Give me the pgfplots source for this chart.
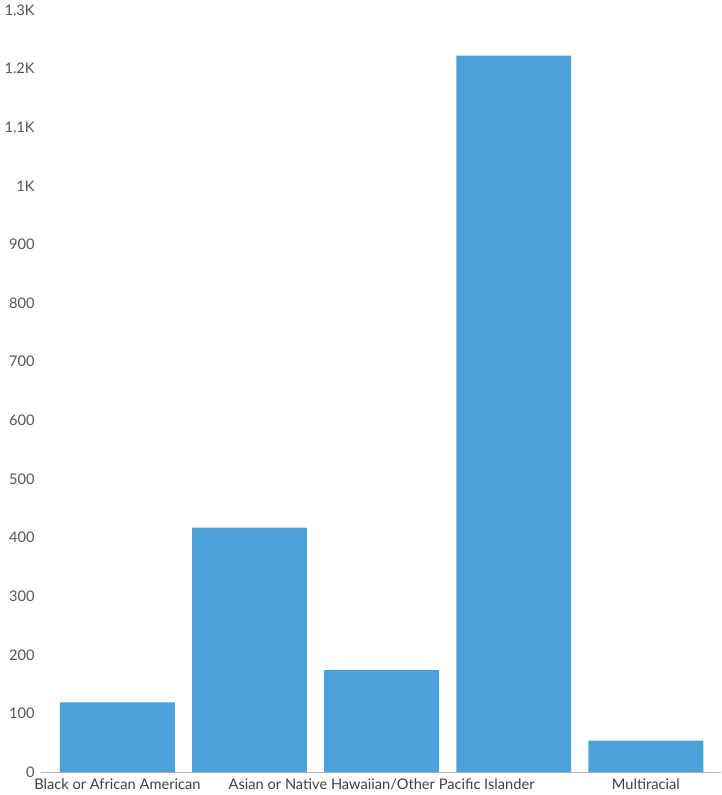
\documentclass[border=0pt]{standalone}
\usepackage{pgfplots}
\pgfplotsset{compat=1.18}
\usepackage{fontspec}
\setmainfont{Lato}
\definecolor{barblue}{HTML}{4AA2D9}
\definecolor{labgray}{HTML}{555555}
\begin{document}
\begin{tikzpicture}
  \begin{axis}[
      scale only axis,
      width=502pt, height=562.5pt,
      xmin=-0.58, xmax=4.57, ymin=0, ymax=1300,
      axis lines*=left,
      y axis line style={draw=none},
      x axis line style={draw=gray!60, line width=0.6pt},
      major tick length=0pt,
      xtick={0,2,4},
      xticklabels={Black or African American, Asian or Native Hawaiian/Other Pacific Islander, Multiracial},
      ytick={0,100,...,1300},
      yticklabels={0,100,200,300,400,500,600,700,800,900,1K,1.1K,1.2K,1.3K},
      ticklabel style={font=\fontsize{10.8}{12}\selectfont, text=labgray},
      xticklabel style={text=black!75, yshift=-1.5pt},
      yticklabel style={xshift=-1pt},
      ybar=0pt, bar width=0.87,
      enlargelimits=false,
      clip=false,
    ]
    \addplot+[fill=barblue, draw=none] coordinates {
      (0,119) (1,417) (2,174) (3,1222) (4,54)
    };
  \end{axis}
\end{tikzpicture}
\end{document}
